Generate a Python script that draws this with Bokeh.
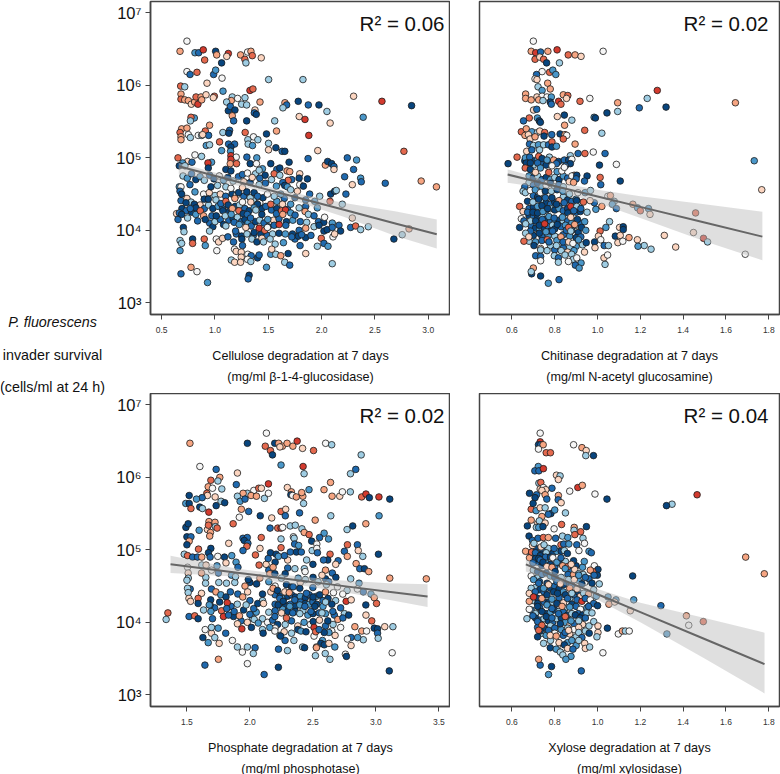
from bokeh.plotting import figure
from bokeh.layouts import column, row
from bokeh.models import Label, FixedTicker, NumeralTickFormatter
from bokeh.embed import file_html
from bokeh.resources import INLINE

# colour classes of the third variable, from dark blue to red
palette = ["#08457e", "#1f69ae", "#4a97c9", "#9fcde3", "#d3e6f0", "#f6f6f6", "#fcd5c0", "#f6a582", "#e4694e", "#d33a2e"]
y_ticks = [1e3, 1e4, 1e5, 1e6, 1e7]
y_tick_labels = {1000: "10³", 10000: "10⁴", 100000: "10⁵", 1000000: "10⁶", 10000000: "10⁷"}
panel_r2 = ["R² = 0.06", "R² = 0.02", "R² = 0.02", "R² = 0.04"]
x_titles = ["Cellulose degradation at 7 days", "Chitinase degradation at 7 days", "Phosphate degradation at 7 days", "Xylose degradation at 7 days"]
x_units = ["(mg/ml β-1-4-glucosidase)", "(mg/ml N-acetyl glucosamine)", "(mg/ml phosphotase)", "(mg/ml xylosidase)"]
y_title = ["P. fluorescens", "invader survival", "(cells/ml at 24 h)"]

# (degradation, log10 survival, colour class)
cellulose = [
(.737,6.61,5),(.672,6.47,7),(.812,6.45,2),(.847,6.45,1),(.89,6.49,9),(1.006,6.47,0),(1.016,6.42,7),(1.125,6.44,9),(1.11,6.40,6),(1.24,6.42,7),
(1.306,6.46,5),(1.337,6.47,7),(1.28,6.36,8),(1.29,6.31,3),(1.35,6.41,8),(1.434,6.38,6),(.903,6.35,8),(1.062,6.31,0),(.737,6.19,5),(.766,6.15,1),
(.831,6.18,8),(.987,6.15,1),(1.006,6.21,2),(1.066,6.10,5),(.925,6.03,6),(1.503,6.08,3),(1.825,6.08,3),(.678,5.99,8),(.716,5.98,3),(1.075,5.92,2),
(1.328,5.93,9),(1.356,5.95,8),(.681,5.88,7),(.681,5.81,8),(.716,5.80,7),(.75,5.79,7),(.778,5.74,6),(.809,5.77,7),(.84,5.74,9),(.822,5.84,8),
(.869,5.84,7),(.916,5.87,6),(.875,5.80,7),(.994,5.85,8),(.984,5.83,6),(1.162,5.84,3),(1.212,5.82,5),(1.281,5.83,3),(1.153,5.79,7),(1.109,5.77,3),
(1.25,5.74,3),(1.297,5.73,3),(1.422,5.77,7),(1.656,5.76,7),(1.672,5.73,1),(1.637,5.69,3),(1.781,5.78,0),(1.875,5.73,1),(1.975,5.73,0),(2.05,5.64,3),
(2.3,5.85,6),(2.566,5.78,9),(2.844,5.72,0),(1.125,5.65,0),(1.144,5.71,1),(1.187,5.66,0),(1.375,5.66,6),(1.369,5.62,1),(1.387,5.60,0),(1.162,5.58,7),
(1.175,5.51,1),(1.297,5.51,0),(1.56,5.51,3),(1.79,5.57,6),(1.844,5.53,9),(2.39,5.56,2),(2.08,5.48,6),(.806,5.55,2),(.775,5.56,8),(.769,5.51,3),
(.949,5.45,7),(.687,5.40,7),(.737,5.41,7),(.672,5.35,8),(.681,5.29,7),(.681,5.25,7),(.75,5.32,5),(.769,5.28,3),(.843,5.31,5),(.875,5.31,3),
(.909,5.37,8),(.94,5.31,1),(.884,5.32,6),(1.074,5.35,3),(1.137,5.38,1),(1.13,5.34,0),(1.283,5.35,8),(1.577,5.37,7),(1.483,5.33,0),(1.88,5.31,9),
(1.361,5.29,5),(1.308,5.25,3),(1.402,5.25,3),(1.043,5.22,8),(1.127,5.19,1),(1.184,5.19,1),(1.149,5.15,0),(.918,5.17,2),(.949,5.18,3),(1.146,5.09,2),
(1.062,5.10,2),(1.311,5.19,3),(1.352,5.17,2),(1.502,5.20,3),(1.502,5.11,6),(1.571,5.14,0),(1.63,5.09,1),(1.655,5.09,0),(1.964,5.10,6),(2.772,5.09,8),
(.653,5.00,8),(.812,5.04,5),(.743,4.95,6),(.874,5.02,3),(.968,4.94,2),(.697,4.93,2),(.784,4.94,1),(.934,4.93,9),(.937,4.86,0),(.665,4.89,0),
(.718,4.89,3),(1.149,5.03,9),(1.199,5.01,5),(1.149,4.98,9),(1.143,4.92,7),(1.202,4.92,8),(1.102,4.84,0),(1.149,4.82,0),(1.299,5.01,1),(1.392,5.00,2),
(1.33,4.92,0),(1.389,4.92,5),(1.873,4.99,1),(1.695,4.94,0),(2.241,5.00,1),(2.328,4.97,2),(2.035,4.90,7),(2.057,4.95,0),(2.094,4.92,0),(2.116,4.88,1),
(2.116,4.84,6),(2.30,4.84,1),(2.366,4.72,2),(2.372,4.67,1),(2.216,4.74,1),(2.288,4.63,6),(2.597,4.65,1),(2.934,4.68,7),(3.077,4.60,7),(1.523,4.92,0),
(1.608,4.86,0),(1.676,4.82,7),(1.701,4.81,7),(1.555,4.78,8),(1.608,4.76,3),(1.686,4.69,8),(1.795,4.78,6),(1.789,4.72,0),(1.867,4.71,0),(1.445,4.85,2),
(1.414,4.83,3),(1.349,4.73,6),(1.42,4.72,1),(1.258,4.77,1),(1.305,4.79,5),(1.473,4.65,1),(1.576,4.61,2),(1.636,4.66,1),(1.654,4.62,0),(1.679,4.60,2),
(1.795,4.63,5),(1.829,4.61,0),(1.888,4.50,1),(1.982,4.47,3),(1.935,4.40,2),(2.085,4.50,0),(2.122,4.54,0),(2.138,4.55,3),(2.228,4.50,1),(2.194,4.36,3),
(1.96,4.31,2),(2.079,4.40,8),(.665,4.60,2),(.681,4.60,5),(.672,4.54,1),(.687,4.50,0),(.765,4.63,1),(.812,4.53,2),(.893,4.50,5),(.946,4.52,6),
(.962,4.60,0),(1.024,4.62,3),(1.102,4.60,3),(1.149,4.58,5),(1.221,4.52,0),(1.258,4.59,6),(1.299,4.53,0),(1.367,4.52,0),(1.414,4.63,3),(1.399,4.47,1),
(1.492,4.50,5),(1.555,4.47,3),(1.617,4.50,2),(1.71,4.56,3),(1.773,4.54,6),(.681,4.41,1),(.737,4.44,6),(.775,4.39,3),(.806,4.36,0),(.821,4.31,0),
(.728,4.38,0),(.899,4.43,0),(.937,4.43,0),(1.009,4.42,3),(1.055,4.37,1),(1.102,4.40,8),(1.124,4.35,0),(1.186,4.44,7),(1.258,4.39,5),(1.336,4.39,6),
(1.399,4.36,0),(1.367,4.31,2),(1.477,4.33,1),(1.523,4.36,8),(1.633,4.36,6),(1.71,4.36,2),(1.789,4.31,3),(1.851,4.33,1),(.64,4.23,6),(.665,4.24,1),
(.653,4.15,1),(.687,4.22,0),(.743,4.17,3),(.768,4.30,1),(.837,4.13,1),(.862,4.27,8),(.893,4.20,7),(.909,4.15,0),(.971,4.20,1),(1.012,4.20,0),
(1.074,4.27,0),(1.096,4.20,3),(1.162,4.30,7),(1.152,4.22,2),(1.224,4.27,8),(1.265,4.23,0),(1.303,4.22,1),(1.334,4.17,1),(1.383,4.28,3),(1.439,4.22,0),
(1.495,4.15,2),(1.576,4.23,1),(1.624,4.27,8),(1.661,4.28,9),(1.636,4.22,7),(1.71,4.24,2),(1.751,4.21,1),(1.845,4.26,7),(1.876,4.22,3),(1.929,4.20,1),
(2.028,4.18,5),(.703,4.04,0),(.709,3.98,3),(.949,3.99,3),(1.102,4.06,3),(1.18,4.11,1),(1.227,4.08,2),(1.193,3.99,1),(1.289,4.04,6),(1.367,3.97,0),
(1.414,4.03,9),(1.467,4.00,8),(1.492,4.04,5),(1.555,4.07,1),(1.602,4.08,9),(1.664,4.07,1),(1.727,3.95,0),(1.789,4.00,1),(1.851,4.03,7),(1.929,4.05,3),
(1.976,4.07,0),(2.022,3.99,0),(2.053,4.01,0),(2.1,4.04,1),(2.163,4.07,1),(2.178,3.99,0),(2.272,4.04,1),(2.319,4.06,8),(2.288,4.17,6),(2.366,4.01,3),
(2.438,4.05,3),(.672,3.86,3),(.687,3.82,3),(.79,3.88,0),(.79,3.82,8),(.899,3.88,8),(.909,3.79,2),(1.012,3.88,5),(1.034,3.84,6),(1.071,3.89,6),
(1.121,3.91,1),(1.174,3.84,1),(1.252,3.88,0),(1.258,3.79,1),(1.346,3.88,3),(1.393,3.84,0),(1.44,3.89,6),(1.455,3.84,3),(1.517,3.88,3),(1.564,3.81,3),
(1.642,3.83,2),(1.72,3.91,1),(1.782,3.92,0),(1.813,3.94,1),(1.798,3.79,1),(1.96,3.78,3),(1.997,3.89,8),(2.022,3.82,1),(2.06,3.78,2),(2.107,3.91,5),
(2.122,3.95,6),(2.678,3.88,0),(2.756,3.94,3),(2.82,4.02,7),(.672,3.72,2),(1.017,3.72,5),(1.183,3.74,5),(1.199,3.71,6),(1.246,3.70,6),(1.308,3.67,5),
(1.339,3.65,1),(1.246,3.63,6),(1.399,3.62,0),(1.414,3.66,1),(1.523,3.67,2),(1.57,3.67,3),(1.532,3.74,6),(1.617,3.65,7),(1.686,3.68,0),(1.851,3.68,6),
(1.153,3.59,3),(1.184,3.56,6),(1.24,3.56,6),(1.305,3.60,5),(1.336,3.57,3),(2.1,3.54,3),(1.654,3.56,3),(1.701,3.52,1),(1.483,3.49,2),(.775,3.49,7),
(.831,3.43,5),(.681,3.40,1),(.93,3.28,2),(1.32,3.38,0),(1.311,3.33,1),
]
cellulose_dense = [
(.70,4.75,3),(.74,4.72,2),(.78,4.78,1),(.82,4.70,0),(.86,4.74,2),(.90,4.69,3),(.95,4.76,1),(.99,4.71,0),(1.04,4.75,5),(1.08,4.69,2),(1.12,4.73,0),(1.17,4.68,3),(1.22,4.74,1),(1.27,4.67,6),(1.33,4.66,0),(1.38,4.78,3),(1.47,4.76,0),(1.53,4.70,3),(1.58,4.84,1),(1.72,4.70,1),
(.69,4.30,0),(.73,4.27,1),(.78,4.25,0),(.82,4.22,2),(.86,4.35,6),(.90,4.30,1),(.94,4.35,3),(.98,4.30,0),(1.03,4.33,2),(1.07,4.30,1),(1.11,4.25,0),(1.15,4.30,1),(1.19,4.33,0),(1.23,4.35,3),(1.28,4.30,1),(1.32,4.27,0),(1.36,4.42,3),(1.42,4.38,5),(1.44,4.30,0),(1.53,4.28,1),(1.58,4.30,0),(1.68,4.29,1),
(.95,4.10,1),(.98,4.05,0),(1.0,4.12,3),(1.05,4.15,1),(1.08,4.08,0),(1.13,4.14,1),(1.17,4.16,0),(1.21,4.18,3),(1.25,4.12,1),(1.28,4.15,0),(1.31,4.10,2),(1.34,4.06,1),(1.38,4.12,0),(1.42,4.14,3),(1.46,4.10,1),(1.5,4.05,0),(1.55,4.14,6),(1.6,4.16,1),(1.67,4.12,0),(1.73,4.14,2),(1.8,4.12,1),(1.86,4.11,3),(1.97,4.12,1),(2.02,4.11,0),(2.1,4.1,2),
(1.2,3.95,1),(1.25,3.92,0),(1.3,3.95,3),(1.36,3.93,1),(1.43,3.95,0),(1.49,3.93,1),(1.54,3.95,3),(1.6,3.96,0),(1.66,3.95,2),(1.75,3.88,1),(1.85,3.9,0),(1.9,3.93,1),
(1.0,4.48,3),(1.05,4.5,6),(1.1,4.47,1),(1.16,4.5,0),(1.2,4.48,5),(1.27,4.47,1),(1.33,4.45,3),(1.45,4.45,0),(1.58,4.4,2),(1.65,4.44,1),(1.75,4.45,0),(1.85,4.42,1),
]

chitinase = [
(.70,6.61,5),(.69,6.47,7),(.711,6.45,9),(.734,6.46,1),(.768,6.47,7),(.811,6.49,9),(.863,6.42,8),(.895,6.42,7),(.923,6.40,6),(1.026,6.47,5),
(.708,6.36,8),(.73,6.39,6),(.748,6.36,8),(.762,6.31,0),(.822,6.31,3),(.741,6.19,5),(.776,6.18,8),(.791,6.21,2),(.805,6.15,2),(.715,6.15,1),
(.708,6.09,5),(.717,6.08,6),(.767,6.03,7),(.722,5.98,3),(.779,5.95,7),(.741,5.93,2),(1.279,5.93,9),(.664,5.88,7),(.664,5.82,7),(.69,5.80,7),
(.717,5.84,6),(.741,5.85,5),(.764,5.84,5),(.784,5.84,2),(.725,5.80,7),(.745,5.79,3),(.779,5.77,0),(.784,5.74,1),(.84,5.87,7),(.861,5.86,8),
(.855,5.82,6),(.818,5.78,9),(.829,5.74,8),(.918,5.78,8),(.964,5.82,5),(1.094,5.76,7),(1.232,5.82,3),(1.195,5.69,1),(1.32,5.70,0),(1.644,5.76,7),
(1.094,5.64,3),(1.044,5.62,0),(.984,5.56,2),(.99,5.55,0),(.88,5.52,3),(.845,5.59,0),(.812,5.57,6),(.681,5.55,8),(.719,5.55,2),(.728,5.51,0),
(.654,5.51,1),(.701,5.66,6),(.716,5.67,1),(.733,5.49,0),(.846,5.45,7),(.94,5.38,8),(1.02,5.34,3),(.644,5.36,8),(.667,5.40,7),(.693,5.36,2),
(.661,5.31,7),(.677,5.32,6),(.719,5.35,3),(.73,5.37,6),(.753,5.35,8),(.75,5.30,0),(.786,5.32,1),(.825,5.33,0),(.848,5.32,7),(.856,5.31,5),
(.84,5.26,8),(.895,5.19,7),(.685,5.26,6),(.708,5.29,7),(.682,5.19,1),(.701,5.17,3),(.724,5.18,2),(.748,5.18,3),(.771,5.18,1),(.787,5.22,8),
(.787,5.15,0),(.808,5.16,2),(.669,5.09,6),(.693,5.11,1),(.729,5.11,3),(.624,5.01,8),(.663,5.00,2),(.683,5.01,1),(.725,5.02,8),(.741,4.99,0),
(.775,5.01,3),(.909,5.06,1),(.941,5.06,8),(.98,5.08,5),(1.035,5.06,1),(.582,4.92,0),(.667,4.93,0),(.686,4.93,0),(.72,4.93,1),(.764,4.97,2),
(.795,4.97,7),(.818,4.95,0),(.845,4.97,1),(.873,5.03,3),(.865,4.97,0),(.88,4.98,5),(.873,4.92,0),(.85,4.89,1),(.808,4.92,1),(.787,4.89,5),
(1.009,4.90,0),(1.088,4.91,5),(1.732,4.96,2),(.662,4.86,8),(.686,4.84,0),(.733,4.86,2),(.71,4.80,6),(.772,4.80,8),(.811,4.81,2),(.833,4.82,5),
(.845,4.87,5),(.891,4.76,7),(.88,4.75,5),(.903,4.76,0),(.9,4.71,1),(.951,4.75,0),(.939,4.68,1),(1.012,4.73,8),(1.106,4.68,0),(.868,4.67,6),
(.888,4.66,7),(1.015,4.63,1),(1.767,4.56,6),(.652,4.54,3),(.663,4.52,3),(.686,4.55,5),(.709,4.56,2),(.733,4.52,5),(.756,4.54,0),(.784,4.54,3),
(.811,4.56,0),(.838,4.54,2),(.869,4.50,3),(.908,4.52,5),(.942,4.52,2),(.967,4.55,3),(1.048,4.47,5),(1.06,4.48,7),(1.078,4.40,3),(1.165,4.36,7),
(1.187,4.31,2),(1.238,4.30,2),(1.2,4.27,8),(1.245,4.22,6),(1.069,4.36,2),(1.088,4.30,1),(1.02,4.33,7),(.992,4.29,2),(.985,4.38,1),(.965,4.41,6),
(.934,4.39,8),(.902,4.41,0),(.636,4.33,8),(.673,4.40,0),(.698,4.39,3),(.725,4.43,0),(.756,4.45,1),(.787,4.45,0),(.82,4.41,7),(.844,4.38,1),
(.875,4.33,9),(.903,4.33,3),(.922,4.30,1),(.652,4.26,6),(.673,4.25,1),(.698,4.25,0),(.72,4.24,0),(.745,4.26,2),(.767,4.30,0),(.808,4.36,0),
(.861,4.24,0),(.889,4.27,1),(.951,4.25,3),(.644,4.16,5),(.656,4.13,1),(.687,4.13,3),(.711,4.13,0),(.742,4.15,1),(.773,4.19,2),(.797,4.17,1),
(.836,4.18,2),(.875,4.18,6),(.906,4.15,0),(.636,4.04,0),(.664,4.09,3),(.687,3.99,1),(.728,4.07,0),(.753,4.09,9),(.781,3.99,0),(.812,4.08,0),
(.854,4.00,1),(.865,4.04,8),(.893,4.08,7),(.925,4.04,0),(.945,4.00,2),(.664,3.96,3),(.728,3.96,0),(.759,3.98,2),(.79,3.99,1),(.829,3.91,7),
(.875,3.99,3),(.922,3.91,1),(.656,3.85,8),(.679,3.91,6),(.703,3.79,0),(.734,3.75,6),(.765,3.87,8),(.773,3.84,1),(.808,3.79,3),(.839,3.84,1),
(.865,3.84,6),(.885,3.82,5),(.911,3.87,2),(.947,3.83,0),(.986,3.84,0),(1.012,3.99,8),(1.004,3.92,6),(1.015,3.87,5),(1.039,4.04,2),(1.056,4.12,3),
(1.103,4.04,6),(1.12,4.05,0),(1.12,4.01,0),(1.083,3.92,0),(1.106,3.93,6),(1.095,3.83,6),(1.118,3.85,5),(1.147,3.90,7),(1.186,3.87,6),(1.218,3.79,3),
(1.189,3.78,2),(1.25,3.74,3),(1.312,3.93,6),(1.365,3.77,6),(1.448,3.97,6),(1.495,3.89,9),(1.514,3.84,3),(1.458,4.24,8),(1.69,3.67,5),(1.031,3.79,1),
(1.051,3.79,3),(.988,3.76,6),(.764,3.72,3),(.734,3.73,3),(.711,3.65,1),(.734,3.64,1),(.734,3.58,5),(.798,3.65,3),(.817,3.62,1),(.848,3.66,3),
(.879,3.67,3),(.887,3.60,3),(.817,3.56,3),(.864,3.57,5),(.903,3.62,5),(.923,3.55,2),(.896,3.52,1),(.914,3.48,2),(.939,3.70,6),(1.03,3.62,6),
(1.047,3.66,5),(1.035,3.53,3),(.70,3.48,7),(.692,3.40,0),(.69,3.43,3),(.734,3.37,0),(.82,3.32,1),(.77,3.27,2),
]
chitinase_dense = [
(.68,4.98,1),(.70,4.96,0),(.72,4.98,2),(.74,4.94,1),(.76,4.90,0),(.70,4.90,3),(.66,4.96,0),(.79,4.93,1),(.68,4.75,2),(.70,4.73,0),(.72,4.75,3),(.74,4.70,1),(.76,4.73,0),(.78,4.70,2),(.80,4.73,3),(.82,4.70,0),(.84,4.75,2),(.86,4.72,1),
(.68,4.66,3),(.70,4.62,1),(.72,4.65,0),(.74,4.60,2),(.76,4.62,5),(.78,4.65,0),(.80,4.60,3),(.82,4.63,1),(.84,4.60,3),(.66,4.60,1),
(.70,4.48,1),(.72,4.46,0),(.74,4.42,3),(.76,4.38,0),(.78,4.36,1),(.80,4.39,0),(.82,4.34,1),(.84,4.46,3),(.86,4.42,0),(.88,4.40,1),(.90,4.43,2),(.92,4.38,3),
(.68,4.30,1),(.70,4.32,0),(.72,4.33,2),(.74,4.34,0),(.76,4.28,1),(.78,4.30,3),(.80,4.28,0),(.82,4.30,2),(.84,4.27,1),(.86,4.30,0),(.88,4.27,2),(.90,4.25,1),(.92,4.26,0),
(.68,4.20,0),(.70,4.18,1),(.72,4.18,0),(.74,4.20,3),(.76,4.15,0),(.78,4.12,1),(.80,4.10,2),(.82,4.14,0),(.84,4.12,3),(.86,4.13,1),(.88,4.10,2),(.90,4.07,3),(.92,4.10,1),(.94,4.12,2),
(.69,4.06,1),(.71,4.03,0),(.73,4.01,2),(.75,4.04,0),(.77,4.05,1),(.79,4.07,3),(.80,4.02,0),(.83,4.05,1),(.85,4.07,2),(.88,4.0,1),(.91,3.97,0),(.70,3.93,0),(.74,3.92,1),(.77,3.93,2),(.80,3.92,3),(.84,3.94,1),(.87,3.92,2),(.90,3.90,0),
(.68,3.85,3),(.71,3.84,2),(.74,3.86,1),(.78,3.79,3),(.81,3.86,2),(.84,3.76,1),(.87,3.77,3),(.90,3.78,2),(.93,3.80,3),(.80,3.73,1),(.83,3.72,3),(.86,3.70,6),(.89,3.72,2),
]

phosphate = [
(1.524,6.47,7),(2.131,6.61,5),(1.98,6.47,0),(2.197,6.47,0),(2.228,6.47,7),(2.122,6.43,8),(2.258,6.43,7),(2.295,6.47,7),(2.341,6.43,7),(2.375,6.50,9),
(2.601,6.47,5),(2.649,6.45,3),(2.163,6.37,8),(2.238,6.42,6),(2.418,6.40,6),(2.505,6.37,8),(2.179,6.31,0),(2.883,6.31,3),(1.603,6.15,5),(2.247,6.17,2),
(2.422,6.15,9),(1.732,6.11,1),(2.84,6.11,1),(1.901,6.06,6),(2.798,6.05,3),(2.43,6.05,3),(1.761,6.00,7),(1.69,5.96,8),(1.746,5.95,3),(1.518,5.75,0),
(2.147,5.91,9),(1.892,5.90,1),(2.64,5.93,7),(1.669,5.87,7),(1.703,5.85,5),(1.777,5.84,3),(1.658,5.78,8),(1.663,5.75,6),(1.621,5.72,1),(1.576,5.70,2),
(1.724,5.73,6),(2.031,5.82,5),(2.07,5.85,8),(2.091,5.85,6),(1.98,5.78,3),(1.946,5.78,7),(1.901,5.74,3),(1.922,5.67,2),(1.961,5.70,1),(2.009,5.75,7),
(2.052,5.74,7),(2.115,5.71,3),(2.147,5.78,5),(2.297,5.86,6),(2.329,5.80,7),(2.325,5.76,0),(2.339,5.75,5),(2.368,5.73,7),(2.42,5.74,7),(2.411,5.79,7),
(2.469,5.83,2),(2.588,5.83,7),(2.652,5.74,7),(2.713,5.74,6),(2.734,5.80,5),(2.797,5.80,3),(2.887,5.73,8),(2.921,5.77,9),(2.948,5.72,0),(3.024,5.73,9),
(3.11,5.70,0),(1.491,5.64,2),(1.518,5.64,0),(1.532,5.57,8),(1.602,5.59,0),(1.623,5.57,3),(1.674,5.52,9),(1.732,5.61,0),(1.771,5.67,3),(1.8,5.65,0),
(1.932,5.56,7),(1.99,5.53,1),(1.916,5.45,5),(2.082,5.47,0),(2.247,5.53,8),(2.284,5.56,6),(2.281,5.47,1),(2.173,5.44,6),(2.394,5.51,1),(2.426,5.64,3),
(2.518,5.41,7),(2.642,5.47,3),(3.025,5.47,2),(1.492,5.31,0),(1.51,5.36,0),(1.597,5.27,2),(1.675,5.39,7),(1.723,5.38,7),(1.663,5.28,6),(1.671,5.34,8),
(1.726,5.32,3),(1.74,5.30,8),(1.687,5.24,7),(1.681,5.19,7),(1.867,5.36,8),(2.16,5.30,1),(2.221,5.30,8),(2.247,5.30,9),(2.26,5.31,5),(2.32,5.33,3),
(2.36,5.34,3),(2.413,5.29,3),(2.431,5.24,7),(2.47,5.21,8),(2.589,5.23,2),(2.816,5.33,0),(2.771,5.28,3),(2.92,5.36,7),(1.5,5.18,0),(1.532,5.18,1),
(1.518,5.12,7),(1.832,5.09,6),(1.945,5.16,1),(1.979,5.17,1),(1.955,5.13,0),(1.984,5.09,1),(2.09,5.17,8),(2.247,5.15,3),(2.345,5.18,5),(2.351,5.16,3),
(2.49,5.12,0),(2.553,5.17,1),(2.624,5.15,2),(1.5,5.07,0),(1.592,5.01,8),(1.69,5.02,0),(1.976,5.05,8),(2.08,5.02,6),(1.945,4.99,1),(2.247,5.03,8),
(2.355,5.08,1),(2.387,5.06,2),(2.494,4.99,3),(2.531,5.08,5),(2.531,5.02,5),(2.774,5.07,8),(2.853,5.07,1),(2.86,4.99,6),(2.75,4.98,1),(1.479,4.94,3),
(1.505,4.92,8),(1.545,4.90,1),(1.584,4.90,1),(1.618,4.90,7),(1.671,4.96,0),(1.684,4.90,1),(1.745,4.91,5),(1.798,4.90,0),(1.856,4.92,2),(1.81,4.82,6),
(1.89,4.83,2),(2.044,4.93,8),(2.073,4.79,8),(2.129,4.80,6),(2.163,4.96,0),(2.208,4.94,0),(2.145,4.88,1),(2.226,4.91,2),(2.274,4.92,1),(2.321,4.97,1),
(2.369,4.97,0),(2.408,4.97,1),(2.536,4.96,1),(2.636,4.94,8),(2.618,4.86,0),(2.584,4.86,1),(2.681,4.80,6),(2.773,4.91,7),(2.896,4.91,3),(3.02,4.94,0),
(2.843,4.81,7),(2.872,4.74,1),(2.909,4.74,0),(2.943,4.70,7),(1.505,4.76,5),(1.51,4.68,6),(1.618,4.79,3),(1.652,4.79,6),(1.739,4.78,2),(1.905,4.76,1),
(2.15,4.72,1),(2.184,4.76,7),(2.28,4.67,0),(2.357,4.74,3),(2.432,4.74,3),(2.438,4.70,5),(2.501,4.62,0),(2.572,4.65,6),(2.654,4.68,1),(2.626,4.56,1),
(2.682,4.62,0),(3.110,4.61,7),(3.4,4.60,7),(1.511,4.61,3),(1.5,4.58,3),(1.526,4.46,1),(1.505,4.47,3),(1.51,4.41,3),(1.648,4.54,3),(1.616,4.68,7),
(1.695,4.72,5),(1.753,4.55,3),(1.814,4.54,3),(1.854,4.65,2),(1.886,4.63,3),(1.961,4.50,7),(1.987,4.59,0),(2.053,4.53,0),(2.079,4.61,7),(2.158,4.67,7),
(2.198,4.67,0),(2.25,4.61,3),(2.29,4.52,0),(2.33,4.49,0),(2.383,4.61,2),(2.44,4.59,3),(2.541,4.56,3),(2.607,4.52,3),(2.695,4.49,5),
(2.771,4.44,3),(2.866,4.54,2),(2.961,4.39,2),(2.987,4.34,7),(2.853,4.46,5),(1.616,4.40,6),(1.589,4.33,8),(1.516,4.33,6),(1.529,4.29,6),(1.589,4.26,0),
(1.684,4.24,0),(1.689,4.31,0),(1.695,4.46,1),(1.73,4.42,7),(1.769,4.38,2),(1.81,4.35,0),(1.845,4.42,1),(1.904,4.39,1),(1.943,4.35,7),(1.982,4.42,6),
(2.1,4.39,0),(2.166,4.42,6),(2.184,4.47,7),(2.219,4.44,0),(2.237,4.33,1),(2.277,4.42,6),(2.312,4.41,7),(2.343,4.49,1),(2.396,4.47,0),(2.449,4.40,1),
(2.501,4.35,0),(2.554,4.38,0),(2.6,4.42,7),(2.663,4.41,5),(2.737,4.39,5),(2.764,4.29,9),(2.804,4.31,6),(2.92,4.24,0),(3.005,4.26,8),(1.349,4.13,8),
(1.335,4.04,3),(1.517,4.08,1),(1.562,4.09,8),(1.589,4.05,0),(1.632,4.17,3),(1.69,4.15,2),(1.703,4.05,1),(1.677,4.24,2),(1.775,4.16,8),(1.82,4.27,9),
(1.816,4.19,1),(1.79,4.08,9),(1.83,4.10,1),(1.875,4.15,1),(1.917,4.09,7),(1.901,3.98,6),(1.936,3.91,9),(2.012,3.93,0),(1.97,4.24,3),(2.03,4.19,1),
(2.062,4.26,0),(2.108,4.26,6),(2.0,4.11,1),(2.034,4.04,3),(2.066,3.99,2),(2.105,3.85,0),(2.158,3.93,2),(2.198,3.88,5),(2.238,3.82,3),(2.272,3.87,6),
(2.198,4.08,1),(2.224,4.24,0),(2.264,4.29,0),(2.251,4.13,6),(2.29,4.06,8),(2.316,4.22,2),(2.356,4.31,1),(2.396,4.24,2),(2.34,4.13,1),(2.396,4.12,3),
(2.436,4.22,1),(2.484,4.15,1),(2.515,4.22,0),(2.572,4.13,3),(2.502,4.01,0),(2.552,4.03,6),(2.618,4.02,0),(2.658,4.15,1),(2.698,4.04,7),(2.738,4.06,1),
(2.784,4.10,0),(2.833,3.94,7),(2.888,3.88,7),(2.967,4.02,8),(2.987,3.92,0),(3.013,3.91,0),(3.07,3.94,6),(3.135,3.94,3),(3.013,3.85,1),(3.018,3.78,3),
(2.926,3.88,5),(2.9,3.76,3),(2.855,3.79,2),(2.803,3.79,1),(2.774,3.77,5),(2.803,3.68,6),(2.758,3.56,5),(2.766,3.53,0),(2.674,3.66,2),(2.676,3.82,6),
(2.627,3.86,2),(2.59,3.86,0),(2.576,3.75,2),(2.563,3.71,0),(2.59,3.69,0),(2.627,3.71,6),(2.635,3.49,3),(2.598,3.57,3),(2.52,3.54,3),(2.528,3.66,6),
(2.528,3.65,7),(2.418,3.66,3),(2.434,3.65,0),(2.349,3.75,3),(2.279,3.75,1),(2.244,3.81,0),(2.405,3.88,2),(2.445,3.87,0),(2.509,3.81,5),(2.509,3.93,9),
(2.522,3.87,8),(2.549,3.90,1),(1.645,3.90,5),(1.627,3.79,0),(1.669,3.72,2),(1.695,3.85,6),(1.695,3.93,3),(1.748,3.92,2),(1.756,3.71,6),(1.721,3.79,3),
(1.808,3.85,1),(1.861,3.75,5),(1.901,3.66,3),(1.94,3.59,5),(1.98,3.66,3),(2.041,3.65,1),(2.027,3.57,3),(1.75,3.49,7),(1.643,3.41,1),(1.98,3.43,5),
(2.226,3.38,0),(2.113,3.28,1),(2.227,3.63,1),(2.298,3.61,3),(3.106,3.33,0),(3.129,3.58,5),(2.921,4.10,6),
]
phosphate_dense = [
(2.2,4.38,1),(2.24,4.36,0),(2.27,4.33,2),(2.3,4.36,0),(2.33,4.38,1),(2.36,4.35,0),(2.4,4.36,2),(2.44,4.34,0),(2.47,4.38,1),(2.5,4.32,0),(2.53,4.36,2),(2.58,4.3,1),(2.62,4.33,0),(2.68,4.3,3),
(2.2,4.25,1),(2.24,4.2,3),(2.28,4.23,0),(2.32,4.25,1),(2.36,4.22,0),(2.4,4.28,1),(2.44,4.26,0),(2.47,4.25,2),(2.5,4.28,1),(2.53,4.25,0),(2.58,4.22,2),(2.6,4.28,3),(2.65,4.25,0),(2.72,4.2,1),
(2.15,4.14,3),(2.2,4.16,1),(2.26,4.18,2),(2.3,4.15,0),(2.36,4.15,0),(2.42,4.16,3),(2.46,4.1,2),(2.5,4.12,0),(2.55,4.13,1),(2.6,4.12,2),(2.67,4.1,1),(2.75,4.12,3),
(2.1,4.05,3),(2.14,4.0,5),(2.18,4.03,1),(2.22,3.97,0),(2.28,3.97,3),(2.33,4.02,1),(2.38,3.95,6),(2.43,4.0,2),(2.48,3.97,5),(2.6,3.95,1),(2.66,3.97,3),(2.72,3.93,5),
(2.1,3.9,3),(2.2,3.92,5),(2.33,3.85,3),(2.38,3.9,0),(2.65,3.88,5),
(1.72,4.2,1),(1.76,4.28,0),(1.85,4.22,1),(1.9,4.25,3),(1.95,4.17,0),(2.05,4.14,2),(2.1,4.3,3),(2.0,4.3,1),(1.87,4.08,0),(1.93,4.02,1),(1.98,4.0,6),(2.02,4.06,3),
(2.2,4.5,5),(2.4,4.55,6),(2.5,4.48,1),(2.6,4.6,0),(2.15,4.56,2),(2.0,4.55,0),(1.88,4.55,3),(1.75,4.68,1),(1.65,4.62,3),(2.3,4.75,1),(2.5,4.8,0),(2.6,4.72,7),(2.45,4.86,3),(2.3,4.86,6),(2.2,4.83,0),(2.7,4.85,1),(2.8,4.6,3),(2.9,4.42,1),
]

xylose = [
(.732,6.61,5),(.732,6.49,9),(.724,6.45,0),(.735,6.45,1),(.746,6.45,7),(.724,6.39,5),(.888,6.45,5),(.927,6.41,7),(.947,6.37,6),(.945,6.30,3),
(.981,6.30,0),(.76,6.34,8),(.78,6.34,8),(.723,6.15,2),(.707,6.09,1),(.726,6.09,1),(.747,6.12,9),(.808,6.03,6),(.825,6.02,3),(.817,5.97,6),
(.726,5.92,3),(.735,5.93,8),(.787,5.85,1),(.908,5.86,9),(.929,5.89,7),(.988,5.77,5),(.87,5.81,5),(.682,5.78,0),(.715,5.76,1),(.732,5.84,6),
(.747,5.86,5),(.758,5.83,6),(.74,5.82,6),(.755,5.76,7),(.708,5.72,0),(.763,5.70,1),(.817,5.75,7),(.816,5.69,1),(.83,5.65,6),(1.044,5.70,0),
(1.465,5.76,9),(1.348,5.63,3),(1.322,5.61,0),(.69,5.56,8),(.699,5.64,0),(.713,5.54,2),(.732,5.58,6),(.755,5.58,3),(.782,5.50,0),(.8,5.55,2),
(.77,5.49,1),(.85,5.51,3),(.74,5.46,7),(.69,5.41,7),(.672,5.33,0),(.72,5.36,6),(.728,5.40,3),(.755,5.37,6),(.714,5.31,3),(.725,5.31,2),
(.745,5.32,0),(.797,5.29,5),(.832,5.35,8),(.891,5.31,7),(.89,5.27,3),(.948,5.32,0),(.921,5.25,8),(.894,5.21,8),(.68,5.19,0),(.696,5.13,1),
(.722,5.16,1),(.747,5.17,8),(.77,5.17,7),(.804,5.16,1),(.836,5.19,3),(.861,5.17,2),(.932,5.16,3),(.939,5.09,5),(.903,5.07,1),(.696,5.06,6),
(.703,5.09,3),(.736,5.04,6),(.75,5.07,3),(.797,5.02,1),(.829,5.07,8),(.842,5.08,1),(.866,5.08,2),(.83,4.98,0),(.845,4.99,3),(.859,4.95,0),
(.96,4.98,2),(.971,4.96,1),(.913,4.99,5),(.664,4.98,7),(.682,4.89,7),(.692,4.97,8),(.71,4.96,1),(.732,4.92,0),(.71,4.88,0),(.725,4.88,0),
(.757,4.90,1),(.78,4.90,0),(.791,4.89,5),(.81,4.83,2),(.829,4.89,1),(.888,4.85,0),(.938,4.84,2),(.698,4.82,1),(.732,4.86,1),(.745,4.83,0),
(.763,4.77,6),(.787,4.76,7),(.802,4.70,0),(.837,4.78,7),(.861,4.77,8),(.985,4.78,5),(1.002,4.73,0),(.978,4.70,8),(.966,4.72,7),(.999,4.65,0),
(.984,4.65,1),(1.692,4.90,7),(1.779,4.67,7),(1.164,4.64,0),(.862,4.66,1),(.888,4.66,7),(.893,4.73,6),(.912,4.67,3),(.933,4.66,3),(.943,4.62,1),
(.849,4.74,2),(.877,4.80,6),(.69,4.64,5),(.717,4.61,3),(.729,4.56,1),(.701,4.59,2),(.764,4.54,0),(.81,4.56,1),(.841,4.52,0),(.865,4.59,3),
(.891,4.59,6),(.912,4.65,2),(.974,4.54,0),(1.008,4.53,3),(.982,4.45,3),(.927,4.53,0),(.69,4.47,3),(.681,4.40,6),(.709,4.42,1),(.725,4.54,1),
(.748,4.47,2),(.771,4.52,6),(.795,4.42,0),(.826,4.53,6),(.87,4.47,7),(.904,4.46,6),(.935,4.40,3),(.958,4.39,7),(.994,4.36,2),(1.049,4.35,2),
(1.086,4.31,2),(1.169,4.31,2),(1.296,4.23,1),(1.053,4.25,7),(1.08,4.28,6),(1.153,4.16,6),(1.415,4.09,7),(1.494,4.01,8),(1.426,3.96,5),(1.324,3.84,2),
(1.097,3.84,5),(1.116,3.88,7),(1.13,3.88,3),(1.148,3.88,5),(1.046,3.92,0),(1.025,3.58,5),(.924,3.33,1),(.771,3.28,2),(.785,3.39,0),(.732,3.41,1),
(.725,3.49,7),(.681,4.29,7),(.701,4.35,9),(.72,4.26,0),(.74,4.33,7),(.764,4.38,0),(.787,4.32,2),(.813,4.40,0),(.841,4.27,6),(.86,4.33,1),
(.88,4.40,3),(.904,4.31,1),(.927,4.29,9),(.943,4.33,1),(.966,4.31,5),(.982,4.26,1),(1.0,4.23,0),(.681,4.18,5),(.67,4.05,3),(.698,4.09,1),
(.72,4.22,0),(.74,4.15,0),(.764,4.24,2),(.787,4.19,1),(.81,4.26,0),(.834,4.22,7),(.87,4.21,2),(.896,4.10,0),(.919,4.06,0),(.958,4.22,1),
(.974,4.13,3),(.943,4.06,1),(.982,4.01,3),(1.002,3.95,6),(1.002,3.86,6),(.997,3.80,3),(.72,4.01,1),(.74,3.96,8),(.732,3.88,0),(.76,4.08,0),
(.787,4.06,1),(.818,4.12,1),(.849,4.08,8),(.876,4.02,2),(.912,4.02,3),(.725,3.89,8),(.72,3.80,0),(.748,3.71,3),(.771,3.89,1),(.779,3.82,6),
(.807,3.81,7),(.826,3.98,0),(.849,3.86,1),(.865,3.89,6),(.912,3.93,6),(.912,3.86,3),(.943,3.88,3),(.961,3.85,0),(.927,3.79,1),(.88,3.75,2),
(.912,3.75,3),(.94,3.71,6),(.943,3.64,6),(.963,3.66,3),(.779,3.65,0),(.807,3.63,2),(.826,3.59,3),(.845,3.69,0),(.86,3.64,6),(.885,3.63,1),
(.838,3.55,3),(.876,3.53,2),(.852,3.49,2),
]
xylose_dense = [
(.71,5.02,0),(.74,5.0,1),(.77,5.02,3),(.79,4.95,0),(.81,4.98,2),(.74,4.94,0),(.76,4.96,3),(.69,4.93,1),(.72,4.83,1),(.74,4.78,0),(.76,4.82,2),(.78,4.8,0),(.80,4.76,1),(.82,4.82,0),(.85,4.84,3),(.87,4.72,1),(.90,4.78,0),(.93,4.76,2),
(.70,4.72,3),(.72,4.7,0),(.74,4.66,1),(.76,4.68,0),(.78,4.64,2),(.80,4.62,0),(.83,4.62,3),(.86,4.54,0),(.88,4.52,1),(.91,4.58,2),(.94,4.55,5),(.96,4.6,1),
(.71,4.48,3),(.73,4.45,0),(.75,4.42,1),(.76,4.35,3),(.78,4.47,0),(.80,4.5,1),(.82,4.46,0),(.84,4.42,2),(.85,4.38,0),(.87,4.33,3),(.89,4.38,1),(.91,4.42,0),(.92,4.36,6),
(.70,4.3,3),(.72,4.33,0),(.75,4.28,1),(.77,4.27,0),(.79,4.28,3),(.82,4.34,1),(.84,4.22,0),(.85,4.2,3),(.88,4.25,0),(.90,4.22,1),(.92,4.18,5),(.95,4.2,2),(.97,4.27,0),
(.69,4.17,1),(.71,4.12,3),(.73,4.2,1),(.76,4.12,0),(.78,4.14,2),(.80,4.17,0),(.82,4.15,3),(.84,4.14,1),(.86,4.1,0),(.88,4.12,3),(.91,4.12,1),(.93,4.1,0),(.95,4.13,3),
(.71,4.06,0),(.73,4.03,1),(.75,4.05,3),(.77,4.02,0),(.79,4.0,1),(.81,4.05,3),(.83,4.06,0),(.85,4.0,2),(.87,3.96,6),(.89,3.98,1),(.93,3.97,6),(.96,3.95,3),
(.72,3.93,1),(.75,3.92,0),(.78,3.95,3),(.80,3.92,1),(.83,3.9,2),(.86,3.92,3),(.89,3.9,5),(.74,3.85,3),(.76,3.82,2),(.80,3.85,5),(.84,3.82,1),(.87,3.84,6),(.90,3.8,3),(.78,3.75,3),(.82,3.72,6),(.86,3.72,2),(.84,3.65,5),(.90,3.68,2),
]

# fitted line with its confidence band: x, fit, upper, lower (log10)
cellulose_x = [0.66, 1.3, 1.7, 2.2, 2.7, 3.08]
cellulose_fit = [4.885, 4.636, 4.481, 4.287, 4.092, 3.945]
cellulose_up = [4.93, 4.68, 4.53, 4.38, 4.26, 4.15]
cellulose_lo = [4.78, 4.59, 4.43, 4.19, 3.92, 3.75]
chitinase_x = [0.58, 0.78, 1.0, 1.2, 1.5, 1.77]
chitinase_fit = [4.77, 4.626, 4.468, 4.324, 4.108, 3.913]
chitinase_up = [4.84, 4.68, 4.56, 4.47, 4.36, 4.257]
chitinase_lo = [4.656, 4.57, 4.38, 4.17, 3.85, 3.587]
phosphate_x = [1.37, 1.9, 2.3, 2.7, 3.1, 3.41]
phosphate_fit = [4.80, 4.684, 4.597, 4.51, 4.423, 4.355]
phosphate_up = [4.92, 4.74, 4.65, 4.58, 4.54, 4.525]
phosphate_lo = [4.68, 4.63, 4.54, 4.43, 4.31, 4.21]
xylose_x = [0.665, 0.85, 1.0, 1.2, 1.5, 1.78]
xylose_fit = [4.80, 4.572, 4.387, 4.14, 3.77, 3.424]
xylose_up = [4.87, 4.63, 4.46, 4.27, 4.06, 3.857]
xylose_lo = [4.70, 4.51, 4.31, 4.00, 3.50, 3.02]

FONT = "Liberation Sans"
DARK = "#444444"


def text_at(p, text, x, y, size, align="center", style="normal", color="#111111"):
    # x and y in screen pixels from the frame's lower left corner
    p.add_layout(Label(x=x, y=y, x_units="screen", y_units="screen", text=text, text_font=FONT,
                       text_font_size=size, text_align=align, text_baseline="middle",
                       text_font_style=style, text_color=color))


def panel(idx, pts, fx, fit, up, lo, xr, ticks, width, border_left, height):
    border_bottom = 79 if height == 393 else 73
    p = figure(width=width, height=height, output_backend="svg", toolbar_location=None,
               x_range=xr, y_range=(10 ** 2.839, 10 ** 7.157), y_axis_type="log",
               min_border_left=border_left, min_border_right=width - 300 - border_left,
               min_border_top=height - 313 - border_bottom, min_border_bottom=border_bottom)
    p.grid.visible = False
    p.background_fill_color = "white"
    p.outline_line_color = DARK
    p.outline_line_width = 1.5
    p.scatter([a for a, b, c in pts], [10 ** b for a, b, c in pts], size=6.6,
              fill_color=[palette[c] for a, b, c in pts], line_color="#1a1a1a", line_width=0.8)
    p.varea(fx, [10 ** v for v in lo], [10 ** v for v in up], fill_color="#c0c0c0", fill_alpha=0.5)
    p.line(fx, [10 ** v for v in fit], line_color="#666666", line_width=2)

    xa = p.xaxis[0]
    xa.ticker = FixedTicker(ticks=ticks)
    xa.formatter = NumeralTickFormatter(format="0.0")
    xa.minor_tick_line_color = None
    xa.axis_line_color = DARK
    xa.axis_line_width = 1.5
    xa.major_tick_line_color = DARK
    xa.major_tick_out = 5
    xa.major_tick_in = 0
    xa.major_label_text_font = FONT
    xa.major_label_text_font_size = "8.5px"
    xa.major_label_text_color = "#333333"
    xa.major_label_standoff = 7
    xa.axis_label = x_titles[idx] + "\n" + x_units[idx]
    xa.axis_label_text_font = FONT
    xa.axis_label_text_font_style = "normal"
    xa.axis_label_text_font_size = "12.6px"
    xa.axis_label_text_color = "#111111"
    xa.axis_label_text_line_height = 1.5
    xa.axis_label_standoff = 13

    ya = p.yaxis[0]
    if border_left > 30:
        ya.ticker = FixedTicker(ticks=y_ticks)
        ya.major_label_overrides = y_tick_labels
        ya.minor_tick_line_color = None
        ya.axis_line_color = DARK
        ya.axis_line_width = 1.5
        ya.major_tick_line_color = DARK
        ya.major_tick_out = 5
        ya.major_tick_in = 0
        ya.major_label_text_font = FONT
        ya.major_label_text_font_size = "16.5px"
        ya.major_label_text_color = "#111111"
        ya.major_label_standoff = 4
    else:
        ya.visible = False

    text_at(p, panel_r2[idx], 294 if border_left > 30 else 289, 291, "20.5px", align="right")
    return p


left = figure(width=110, height=774, output_backend="svg", toolbar_location=None, x_range=(0, 110), y_range=(774, 0),
              min_border=0, outline_line_color=None)
left.axis.visible = False
left.grid.visible = False
for line, py, style in zip(y_title, [321, 354, 386], ["italic", "normal", "normal"]):
    left.add_layout(Label(x=52, y=py, text=line, text_font=FONT, text_font_size="14.3px", text_align="center",
                          text_baseline="middle", text_font_style=style, text_color="#111111"))

p1 = panel(0, cellulose_dense + cellulose, cellulose_x, cellulose_fit, cellulose_up, cellulose_lo, (0.395, 3.209), [0.5, 1, 1.5, 2, 2.5, 3], 340, 40, 393)
p2 = panel(1, chitinase_dense + chitinase, chitinase_x, chitinase_fit, chitinase_up, chitinase_lo, (0.4485, 1.85), [0.6, 0.8, 1, 1.2, 1.4, 1.6, 1.8], 330, 29, 393)
p3 = panel(2, phosphate_dense + phosphate, phosphate_x, phosphate_fit, phosphate_up, phosphate_lo, (1.211, 3.592), [1.5, 2, 2.5, 3, 3.5], 340, 40, 386)
p4 = panel(3, xylose_dense + xylose, xylose_x, xylose_fit, xylose_up, xylose_lo, (0.4485, 1.85), [0.6, 0.8, 1, 1.2, 1.4, 1.6, 1.8], 330, 29, 386)

grid = column(row(p1, p2, spacing=0), row(p3, p4, spacing=0), spacing=0, margin=(0, 0, -5, 0))
root = row(left, grid, spacing=0)
open("out.html", "w").write(file_html(root, INLINE))
